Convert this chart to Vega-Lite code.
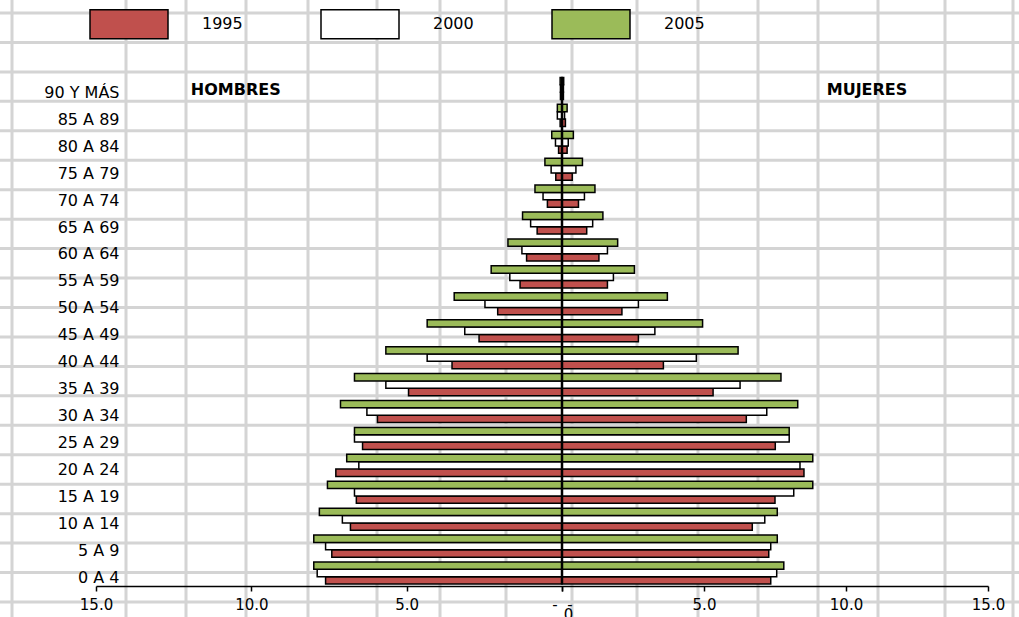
{
  "$schema": "https://vega.github.io/schema/vega-lite/v6.json",
  "width": 1019,
  "height": 617,
  "padding": 0,
  "autosize": {"type": "none"},
  "background": "white",
  "config": {"view": {"stroke": null}},
  "layer": [
    {
      "data": {"values": [{"col_edge": 12}, {"col_edge": 126}, {"col_edge": 186}, {"col_edge": 246}, {"col_edge": 308}, {"col_edge": 377}, {"col_edge": 440}, {"col_edge": 506}, {"col_edge": 572}, {"col_edge": 637}, {"col_edge": 698}, {"col_edge": 758}, {"col_edge": 818}, {"col_edge": 878}, {"col_edge": 945}, {"col_edge": 1013}]},
      "mark": {"type": "rule", "color": "#d4d4d4", "strokeWidth": 3},
      "encoding": {"x": {"field": "col_edge", "type": "quantitative", "scale": {"domain": [0, 1019], "nice": false, "zero": false}, "axis": null}}
    },
    {
      "data": {"values": [{"row": 1}, {"row": 2}, {"row": 3}, {"row": 4}, {"row": 5}, {"row": 6}, {"row": 7}, {"row": 8}, {"row": 9}, {"row": 10}, {"row": 11}, {"row": 12}, {"row": 13}, {"row": 14}, {"row": 15}, {"row": 16}, {"row": 17}, {"row": 18}, {"row": 19}, {"row": 20}, {"row": 21}]},
      "mark": {"type": "rule", "color": "#d4d4d4", "strokeWidth": 3},
      "encoding": {"y": {"field": "row", "type": "quantitative", "scale": {"domain": [0.5586, 21.509], "range": [0, 617], "nice": false, "zero": false}, "axis": null}}
    },
    {
      "data": {"values": [
        {"edad": "90 Y MÁS", "sexo": "H", "anio": "1995", "pct": -0.05}, {"edad": "90 Y MÁS", "sexo": "H", "anio": "2000", "pct": -0.05}, {"edad": "90 Y MÁS", "sexo": "H", "anio": "2005", "pct": -0.06},
        {"edad": "85 A 89", "sexo": "H", "anio": "1995", "pct": -0.06}, {"edad": "85 A 89", "sexo": "H", "anio": "2000", "pct": -0.15}, {"edad": "85 A 89", "sexo": "H", "anio": "2005", "pct": -0.15},
        {"edad": "80 A 84", "sexo": "H", "anio": "1995", "pct": -0.11}, {"edad": "80 A 84", "sexo": "H", "anio": "2000", "pct": -0.21}, {"edad": "80 A 84", "sexo": "H", "anio": "2005", "pct": -0.33},
        {"edad": "75 A 79", "sexo": "H", "anio": "1995", "pct": -0.2}, {"edad": "75 A 79", "sexo": "H", "anio": "2000", "pct": -0.35}, {"edad": "75 A 79", "sexo": "H", "anio": "2005", "pct": -0.55},
        {"edad": "70 A 74", "sexo": "H", "anio": "1995", "pct": -0.47}, {"edad": "70 A 74", "sexo": "H", "anio": "2000", "pct": -0.61}, {"edad": "70 A 74", "sexo": "H", "anio": "2005", "pct": -0.87},
        {"edad": "65 A 69", "sexo": "H", "anio": "1995", "pct": -0.8}, {"edad": "65 A 69", "sexo": "H", "anio": "2000", "pct": -1.01}, {"edad": "65 A 69", "sexo": "H", "anio": "2005", "pct": -1.27},
        {"edad": "60 A 64", "sexo": "H", "anio": "1995", "pct": -1.14}, {"edad": "60 A 64", "sexo": "H", "anio": "2000", "pct": -1.29}, {"edad": "60 A 64", "sexo": "H", "anio": "2005", "pct": -1.74},
        {"edad": "55 A 59", "sexo": "H", "anio": "1995", "pct": -1.35}, {"edad": "55 A 59", "sexo": "H", "anio": "2000", "pct": -1.68}, {"edad": "55 A 59", "sexo": "H", "anio": "2005", "pct": -2.28},
        {"edad": "50 A 54", "sexo": "H", "anio": "1995", "pct": -2.07}, {"edad": "50 A 54", "sexo": "H", "anio": "2000", "pct": -2.48}, {"edad": "50 A 54", "sexo": "H", "anio": "2005", "pct": -3.47},
        {"edad": "45 A 49", "sexo": "H", "anio": "1995", "pct": -2.67}, {"edad": "45 A 49", "sexo": "H", "anio": "2000", "pct": -3.13}, {"edad": "45 A 49", "sexo": "H", "anio": "2005", "pct": -4.34},
        {"edad": "40 A 44", "sexo": "H", "anio": "1995", "pct": -3.54}, {"edad": "40 A 44", "sexo": "H", "anio": "2000", "pct": -4.34}, {"edad": "40 A 44", "sexo": "H", "anio": "2005", "pct": -5.67},
        {"edad": "35 A 39", "sexo": "H", "anio": "1995", "pct": -4.94}, {"edad": "35 A 39", "sexo": "H", "anio": "2000", "pct": -5.67}, {"edad": "35 A 39", "sexo": "H", "anio": "2005", "pct": -6.68},
        {"edad": "30 A 34", "sexo": "H", "anio": "1995", "pct": -5.94}, {"edad": "30 A 34", "sexo": "H", "anio": "2000", "pct": -6.28}, {"edad": "30 A 34", "sexo": "H", "anio": "2005", "pct": -7.13},
        {"edad": "25 A 29", "sexo": "H", "anio": "1995", "pct": -6.42}, {"edad": "25 A 29", "sexo": "H", "anio": "2000", "pct": -6.68}, {"edad": "25 A 29", "sexo": "H", "anio": "2005", "pct": -6.68},
        {"edad": "20 A 24", "sexo": "H", "anio": "1995", "pct": -7.28}, {"edad": "20 A 24", "sexo": "H", "anio": "2000", "pct": -6.54}, {"edad": "20 A 24", "sexo": "H", "anio": "2005", "pct": -6.93},
        {"edad": "15 A 19", "sexo": "H", "anio": "1995", "pct": -6.62}, {"edad": "15 A 19", "sexo": "H", "anio": "2000", "pct": -6.68}, {"edad": "15 A 19", "sexo": "H", "anio": "2005", "pct": -7.55},
        {"edad": "10 A 14", "sexo": "H", "anio": "1995", "pct": -6.81}, {"edad": "10 A 14", "sexo": "H", "anio": "2000", "pct": -7.07}, {"edad": "10 A 14", "sexo": "H", "anio": "2005", "pct": -7.81},
        {"edad": "5 A 9", "sexo": "H", "anio": "1995", "pct": -7.41}, {"edad": "5 A 9", "sexo": "H", "anio": "2000", "pct": -7.61}, {"edad": "5 A 9", "sexo": "H", "anio": "2005", "pct": -7.99},
        {"edad": "0 A 4", "sexo": "H", "anio": "1995", "pct": -7.61}, {"edad": "0 A 4", "sexo": "H", "anio": "2000", "pct": -7.88}, {"edad": "0 A 4", "sexo": "H", "anio": "2005", "pct": -7.99},
        {"edad": "90 Y MÁS", "sexo": "M", "anio": "1995", "pct": 0.05}, {"edad": "90 Y MÁS", "sexo": "M", "anio": "2000", "pct": 0.05}, {"edad": "90 Y MÁS", "sexo": "M", "anio": "2005", "pct": 0.06},
        {"edad": "85 A 89", "sexo": "M", "anio": "1995", "pct": 0.12}, {"edad": "85 A 89", "sexo": "M", "anio": "2000", "pct": 0.09}, {"edad": "85 A 89", "sexo": "M", "anio": "2005", "pct": 0.18},
        {"edad": "80 A 84", "sexo": "M", "anio": "1995", "pct": 0.18}, {"edad": "80 A 84", "sexo": "M", "anio": "2000", "pct": 0.22}, {"edad": "80 A 84", "sexo": "M", "anio": "2005", "pct": 0.4},
        {"edad": "75 A 79", "sexo": "M", "anio": "1995", "pct": 0.36}, {"edad": "75 A 79", "sexo": "M", "anio": "2000", "pct": 0.49}, {"edad": "75 A 79", "sexo": "M", "anio": "2005", "pct": 0.72},
        {"edad": "70 A 74", "sexo": "M", "anio": "1995", "pct": 0.58}, {"edad": "70 A 74", "sexo": "M", "anio": "2000", "pct": 0.79}, {"edad": "70 A 74", "sexo": "M", "anio": "2005", "pct": 1.16},
        {"edad": "65 A 69", "sexo": "M", "anio": "1995", "pct": 0.87}, {"edad": "65 A 69", "sexo": "M", "anio": "2000", "pct": 1.08}, {"edad": "65 A 69", "sexo": "M", "anio": "2005", "pct": 1.44},
        {"edad": "60 A 64", "sexo": "M", "anio": "1995", "pct": 1.3}, {"edad": "60 A 64", "sexo": "M", "anio": "2000", "pct": 1.6}, {"edad": "60 A 64", "sexo": "M", "anio": "2005", "pct": 1.96},
        {"edad": "55 A 59", "sexo": "M", "anio": "1995", "pct": 1.6}, {"edad": "55 A 59", "sexo": "M", "anio": "2000", "pct": 1.81}, {"edad": "55 A 59", "sexo": "M", "anio": "2005", "pct": 2.55},
        {"edad": "50 A 54", "sexo": "M", "anio": "1995", "pct": 2.11}, {"edad": "50 A 54", "sexo": "M", "anio": "2000", "pct": 2.69}, {"edad": "50 A 54", "sexo": "M", "anio": "2005", "pct": 3.71},
        {"edad": "45 A 49", "sexo": "M", "anio": "1995", "pct": 2.69}, {"edad": "45 A 49", "sexo": "M", "anio": "2000", "pct": 3.27}, {"edad": "45 A 49", "sexo": "M", "anio": "2005", "pct": 4.95},
        {"edad": "40 A 44", "sexo": "M", "anio": "1995", "pct": 3.57}, {"edad": "40 A 44", "sexo": "M", "anio": "2000", "pct": 4.73}, {"edad": "40 A 44", "sexo": "M", "anio": "2005", "pct": 6.2},
        {"edad": "35 A 39", "sexo": "M", "anio": "1995", "pct": 5.32}, {"edad": "35 A 39", "sexo": "M", "anio": "2000", "pct": 6.27}, {"edad": "35 A 39", "sexo": "M", "anio": "2005", "pct": 7.71},
        {"edad": "30 A 34", "sexo": "M", "anio": "1995", "pct": 6.49}, {"edad": "30 A 34", "sexo": "M", "anio": "2000", "pct": 7.21}, {"edad": "30 A 34", "sexo": "M", "anio": "2005", "pct": 8.3},
        {"edad": "25 A 29", "sexo": "M", "anio": "1995", "pct": 7.51}, {"edad": "25 A 29", "sexo": "M", "anio": "2000", "pct": 8.0}, {"edad": "25 A 29", "sexo": "M", "anio": "2005", "pct": 8.0},
        {"edad": "20 A 24", "sexo": "M", "anio": "1995", "pct": 8.52}, {"edad": "20 A 24", "sexo": "M", "anio": "2000", "pct": 8.38}, {"edad": "20 A 24", "sexo": "M", "anio": "2005", "pct": 8.83},
        {"edad": "15 A 19", "sexo": "M", "anio": "1995", "pct": 7.5}, {"edad": "15 A 19", "sexo": "M", "anio": "2000", "pct": 8.16}, {"edad": "15 A 19", "sexo": "M", "anio": "2005", "pct": 8.83},
        {"edad": "10 A 14", "sexo": "M", "anio": "1995", "pct": 6.7}, {"edad": "10 A 14", "sexo": "M", "anio": "2000", "pct": 7.14}, {"edad": "10 A 14", "sexo": "M", "anio": "2005", "pct": 7.58},
        {"edad": "5 A 9", "sexo": "M", "anio": "1995", "pct": 7.28}, {"edad": "5 A 9", "sexo": "M", "anio": "2000", "pct": 7.35}, {"edad": "5 A 9", "sexo": "M", "anio": "2005", "pct": 7.58},
        {"edad": "0 A 4", "sexo": "M", "anio": "1995", "pct": 7.35}, {"edad": "0 A 4", "sexo": "M", "anio": "2000", "pct": 7.56}, {"edad": "0 A 4", "sexo": "M", "anio": "2005", "pct": 7.81}
      ]},
      "layer": [
        {
          "mark": {"type": "bar", "stroke": "black", "strokeWidth": 1.5},
          "encoding": {
            "y": {
              "field": "edad", "type": "nominal",
              "scale": {"domain": ["90 Y MÁS", "85 A 89", "80 A 84", "75 A 79", "70 A 74", "65 A 69", "60 A 64", "55 A 59", "50 A 54", "45 A 49", "40 A 44", "35 A 39", "30 A 34", "25 A 29", "20 A 24", "15 A 19", "10 A 14", "5 A 9", "0 A 4"], "range": [75, 586.5], "paddingInner": 0.18, "paddingOuter": 0.09},
              "axis": {"title": null, "orient": "left", "offset": -120, "ticks": false, "domain": false, "zindex": 2, "labelFont": "DejaVu Sans", "labelFontSize": 16, "labelColor": "black", "labelPadding": 1, "labelOffset": 4.5, "labelLimit": 0}
            },
            "x": {
              "field": "pct", "type": "quantitative",
              "scale": {"domain": [-15, 0, 15], "range": [96, 562, 988], "nice": false, "zero": false},
              "axis": {"title": null, "values": [-15, -10, -5, -0.001, 0, 5, 10, 15], "labelExpr": "datum.value == 0 ? '0' : (abs(datum.value) < 1 ? '-\u00a0\u00a0-' : format(abs(datum.value), '.1f'))", "offset": -31, "zindex": 2, "grid": false, "domainColor": "black", "domainWidth": 1.5, "tickColor": "black", "tickWidth": 1.5, "tickSize": 5, "labelFont": "DejaVu Sans", "labelFontSize": 15, "labelColor": "black", "labelPadding": {"condition": {"test": "datum.value == 0", "value": 16}, "value": 6}, "labelOffset": {"condition": {"test": "datum.value == 0", "value": 6}, "value": 0}, "labelOverlap": false, "labelFlush": false, "labelBound": false}
            },
            "yOffset": {"field": "anio", "type": "nominal", "scale": {"domain": ["2005", "2000", "1995"], "paddingInner": 0, "paddingOuter": 0}},
            "color": {
              "field": "anio", "type": "nominal",
              "scale": {"domain": ["1995", "2000", "2005"], "range": ["#C0504D", "#FFFFFF", "#9BBB59"]},
              "legend": {"orient": "none", "legendX": 89, "legendY": -16, "direction": "horizontal", "title": null, "symbolType": "M-1,-0.37H1V0.37H-1Z", "symbolSize": 6084, "symbolStrokeColor": "black", "symbolStrokeWidth": 1.5, "symbolOpacity": 1, "labelFont": "DejaVu Sans", "labelFontSize": 16, "labelColor": "black", "labelOffset": 33, "columnPadding": 75, "padding": 0}
            }
          }
        },
        {
          "data": {"values": [{"eje": 0}]},
          "mark": {"type": "rule", "color": "black", "strokeWidth": 2.5},
          "encoding": {
            "x": {"field": "eje", "type": "quantitative"},
            "y": {"datum": "90 Y MÁS", "type": "nominal", "bandPosition": 0},
            "y2": {"datum": "0 A 4", "bandPosition": 1}
          }
        },
        {
          "data": {"values": [{"titulo": "HOMBRES", "pos": -10.5, "edad": "90 Y MÁS"}, {"titulo": "MUJERES", "pos": 10.74, "edad": "90 Y MÁS"}]},
          "mark": {"type": "text", "font": "DejaVu Sans", "fontWeight": "bold", "fontSize": 16, "color": "black", "dy": 2},
          "encoding": {
            "x": {"field": "pos", "type": "quantitative"},
            "y": {"field": "edad", "type": "nominal"},
            "text": {"field": "titulo"}
          }
        }
      ]
    }
  ],
  "resolve": {"scale": {"x": "independent", "y": "independent"}, "axis": {"x": "independent", "y": "independent"}}
}
